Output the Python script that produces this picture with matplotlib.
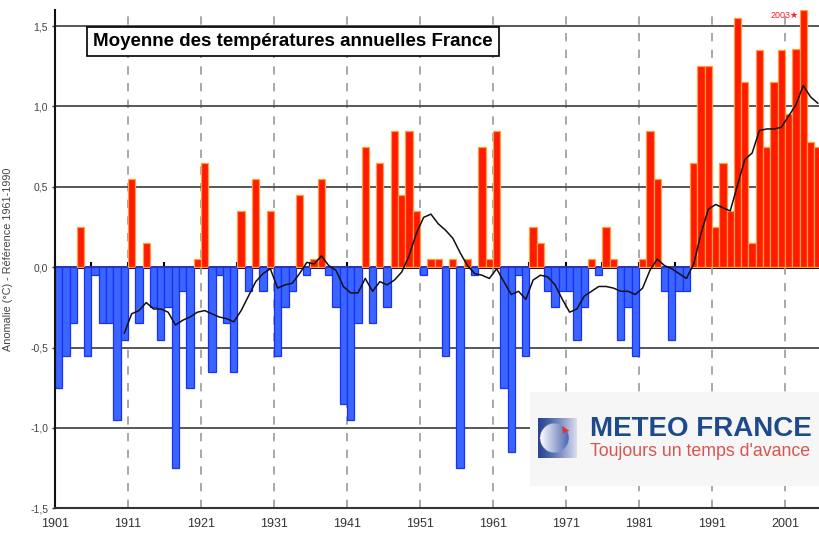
import numpy as np
import matplotlib
matplotlib.use("Agg")
import matplotlib.pyplot as plt
from matplotlib.patches import Rectangle, Polygon
from matplotlib.ticker import FuncFormatter

plt.rcParams['font.family'] = ['Liberation Sans', 'DejaVu Sans']

# ---------------- data ----------------
years = list(range(1901, 2006))
anomaly = [
    -0.75, -0.55, -0.35, 0.25, -0.55, -0.05, -0.35, -0.35, -0.95, -0.45,   # 1901-1910
    0.55, -0.35, 0.15, -0.25, -0.45, -0.25, -1.25, -0.15, -0.75, 0.05,     # 1911-1920
    0.65, -0.65, -0.05, -0.35, -0.65, 0.35, -0.15, 0.55, -0.15, 0.35,      # 1921-1930
    -0.55, -0.25, -0.15, 0.45, -0.05, 0.05, 0.55, -0.05, -0.25, -0.85,     # 1931-1940
    -0.95, -0.35, 0.75, -0.35, 0.65, -0.25, 0.85, 0.45, 0.85, 0.35,        # 1941-1950
    -0.05, 0.05, 0.05, -0.55, 0.05, -1.25, 0.05, -0.05, 0.75, 0.05,        # 1951-1960
    0.85, -0.75, -1.15, -0.05, -0.55, 0.25, 0.15, -0.15, -0.25, -0.15,     # 1961-1970
    -0.15, -0.45, -0.25, 0.05, -0.05, 0.25, 0.05, -0.45, -0.25, -0.55,     # 1971-1980
    0.05, 0.85, 0.55, -0.15, -0.45, -0.15, -0.15, 0.65, 1.25, 1.25,        # 1981-1990
    0.25, 0.65, 0.35, 1.55, 1.15, 0.15, 1.35, 0.75, 1.15, 1.35,            # 1991-2000
    0.95, 1.36, 1.60, 0.78, 0.75,                                          # 2001-2005
]
smooth_years = list(range(1910, 2006))
smooth = [
    -0.41, -0.29, -0.27, -0.22, -0.26, -0.26, -0.28, -0.36, -0.33, -0.31,  # 1910-1919
    -0.28, -0.27, -0.29, -0.31, -0.32, -0.34, -0.27, -0.18, -0.09, -0.04,  # 1920-1929
    -0.01, -0.13, -0.11, -0.10, -0.04, 0.03, 0.02, 0.07, 0.01, -0.02,      # 1930-1939
    -0.12, -0.16, -0.16, -0.07, -0.15, -0.09, -0.11, -0.08, -0.03, 0.07,   # 1940-1949
    0.21, 0.31, 0.33, 0.27, 0.23, 0.18, 0.09, 0.01, -0.04, -0.05,          # 1950-1959
    -0.07, -0.01, -0.09, -0.17, -0.15, -0.20, -0.08, -0.05, -0.06, -0.11,  # 1960-1969
    -0.20, -0.28, -0.26, -0.18, -0.15, -0.12, -0.12, -0.13, -0.15, -0.15,  # 1970-1979
    -0.17, -0.13, -0.02, 0.05, 0.01, -0.01, -0.04, -0.07, 0.02, 0.21,      # 1980-1989
    0.36, 0.39, 0.37, 0.35, 0.51, 0.67, 0.71, 0.85, 0.86, 0.86,            # 1990-1999
    0.87, 0.94, 1.01, 1.13, 1.06, 1.02,                                    # 2000-2005
]
xtick_years = [1901, 1911, 1921, 1931, 1941, 1951, 1961, 1971, 1981, 1991, 2001]
ytick_vals = [-1.5, -1.0, -0.5, 0.0, 0.5, 1.0, 1.5]
title = "Moyenne des températures annuelles France"
ylabel = "Anomalie (°C) - Référence 1961-1990"
record_label = "2003\u2605"

# ---------------- figure ----------------
W, H = 820, 533
fig = plt.figure(figsize=(W / 100, H / 100), dpi=100)
fig.patch.set_facecolor('white')

ax_l, ax_r, ax_t, ax_b = 55, 820, 10, 508.3
ax = fig.add_axes([ax_l / W, 1 - ax_b / H, (ax_r - ax_l) / W, (ax_b - ax_t) / H])
ax.set_xlim(1901, 2005.8)
ax.set_ylim(-1.5, 1.6)

red_face, red_edge = '#ff1a00', '#ffa040'
blue_face, blue_edge = '#3a66ff', '#1a2eff'
faces = [red_face if v > 0 else blue_face for v in anomaly]
edges = [red_edge if v > 0 else blue_edge for v in anomaly]
ax.bar(years, anomaly, width=1.0, align='edge', color=faces,
       edgecolor=edges, linewidth=0.9, zorder=2)

ax.plot(np.array(smooth_years) + 0.5, smooth, color='#111111', lw=1.1, zorder=3)

# grid
ax.set_axisbelow(True)
ax.set_yticks(ytick_vals)
ax.yaxis.set_major_formatter(FuncFormatter(lambda v, p: f"{v:.1f}".replace('.', ',')))
ax.grid(axis='y', color='#4a4a4a', lw=1.3, ls='-')
ax.set_xticks(xtick_years)
ax.grid(axis='x', color='#9a9a9a', lw=1.2, ls=(0, (5, 5)))

# ticks / labels
ax.tick_params(axis='y', labelsize=7.5, colors='#333333', length=2, width=1, pad=3)
ax.tick_params(axis='x', labelsize=9, colors='#333333', length=0, pad=7)
for lab in ax.get_yticklabels():
    lab.set_color('#444444')

for s in ['top', 'right']:
    ax.spines[s].set_visible(False)
ax.spines['left'].set_linewidth(1.5)
ax.spines['left'].set_color('#111111')
ax.spines['bottom'].set_linewidth(1.5)
ax.spines['bottom'].set_color('#333333')

ax.set_ylabel(ylabel, fontsize=7.8, color='#444444')
ax.yaxis.set_label_coords((13 - ax_l) / (ax_r - ax_l), 0.5)

# zero axis line with 5-year ticks
zero_frac = (0 - (-1.5)) / (1.6 - (-1.5))
sec = ax.secondary_xaxis(zero_frac)
sec.spines['bottom'].set_linewidth(2.2)
sec.spines['bottom'].set_color('black')
sec.spines['bottom'].set_zorder(4)
sec.set_xticks(list(range(1901, 2006, 5)))
sec.tick_params(direction='in', length=3.5, width=1.5, colors='black', labelbottom=False)

# title box
ax.text((293 - ax_l) / (ax_r - ax_l), (ax_b - 41) / (ax_b - ax_t), title,
        transform=ax.transAxes, ha='center', va='center', fontsize=13.5,
        fontweight='bold', color='black', zorder=6,
        bbox=dict(boxstyle='square,pad=0.32', facecolor='white', edgecolor='black', lw=1.2))

# record label
ax.text(2002.9, 1.565, record_label, ha='right', va='center', fontsize=6.5,
        color='#ff2020', zorder=6)

# logo
lx0, lx1, ly0, ly1 = 530, 820, 392, 486
fig.patches.append(Rectangle((lx0 / W, 1 - ly1 / H), (lx1 - lx0) / W, (ly1 - ly0) / H,
                             transform=fig.transFigure, facecolor='#f6f6f6',
                             edgecolor='none', zorder=5))
fig.text(590 / W, 1 - 428.5 / H, "METEO FRANCE", fontsize=20, fontweight='bold',
         color='#1d4a8e', ha='left', va='center', zorder=6)
fig.text(590 / W, 1 - 452 / H, "Toujours un temps d'avance", fontsize=12.8,
         color='#d65550', ha='left', va='center', zorder=6)

icon = fig.add_axes([538 / W, 1 - 458 / H, 39 / W, 40 / H], zorder=7)
n = 80
gx, gy = np.meshgrid(np.linspace(0, 1, n), np.linspace(0, 1, n))
dark = np.array([0.16, 0.27, 0.58])
light = np.array([0.86, 0.87, 0.94])
t = gx[..., None] ** 1.3
img = dark * (1 - t) + light * t
cx, cy, r = 0.42, 0.5, 0.37
inside = (gx - cx) ** 2 + (gy - cy) ** 2 < r ** 2
u = np.clip((gx - (cx - r)) / (2 * r), 0, 1)[..., None]
circ = np.array([1.0, 1.0, 1.0]) * (1 - u) + np.array([0.30, 0.40, 0.70]) * u
img = np.where(inside[..., None], circ, img)
icon.imshow(img, extent=(0, 1, 0, 1), origin='lower', aspect='auto')
icon.add_patch(Polygon([[0.62, 0.80], [0.80, 0.68], [0.64, 0.62]], closed=True,
                       facecolor='#e03030', edgecolor='none'))
icon.set_xlim(0, 1)
icon.set_ylim(0, 1)
icon.axis('off')

fig.savefig('out.png', dpi=100)
